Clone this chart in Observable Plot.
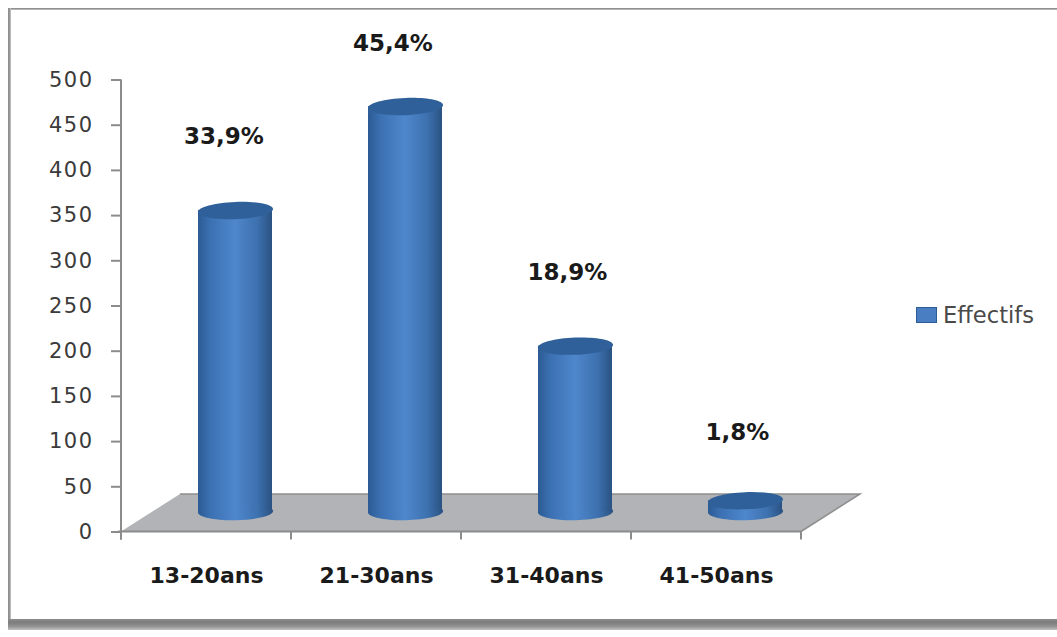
<!DOCTYPE html>
<html lang="fr">
<head>
<meta charset="utf-8">
<title>Effectifs par tranche d'âge</title>
<script src="https://cdn.jsdelivr.net/npm/d3@7"></script>
<script src="https://cdn.jsdelivr.net/npm/@observablehq/plot@0.6"></script>
<style>
  html, body { margin: 0; padding: 0; background: #fff; }
  #page { position: relative; width: 1057px; height: 637px; overflow: hidden; font-family: "DejaVu Sans", sans-serif; }
  #page svg { position: absolute; left: 0; top: 0; }
  .edge { position: absolute; }
  #edge-top { left: 8px; right: 0; top: 8px; height: 2px; background: linear-gradient(#808080, #c4c4c4); }
  #edge-left { left: 8px; top: 8px; width: 3px; height: 619px; background: linear-gradient(90deg, #8a8a8a, #9c9c9c 66%, #d8d8d8); }
  #edge-bottom { left: 8px; right: 0; top: 619px; height: 11px; background: linear-gradient(#8c8c8c, #7d7d7d 30%, #909090 65%, #c0c0c0); }
  #legend { position: absolute; left: 916px; top: 301px; display: flex; align-items: center; gap: 6px; font-size: 22.6px; color: #4a4a4a; line-height: 28px; }
  #legend i { display: block; width: 19px; height: 14px; background: #4a7ec2; border: 1px solid #2d5c94; }
  [aria-label="y-axis tick label"] text { letter-spacing: 1.5px; }
</style>
</head>
<body>
<div id="page">
  <div class="edge" id="edge-top"></div>
  <div class="edge" id="edge-left"></div>
  <div class="edge" id="edge-bottom"></div>
  <div id="legend"><i></i><span>Effectifs</span></div>
</div>
<script>
// Headcount by age group and the share each group represents.
const ageGroups = ["13-20ans", "21-30ans", "31-40ans", "41-50ans"];
const headcounts = [339, 454, 189, 18];
const shares = ["33,9%", "45,4%", "18,9%", "1,8%"];
const yTicks = [0, 50, 100, 150, 200, 250, 300, 350, 400, 450, 500];

const rows = ageGroups.map((group, i) => ({group, count: headcounts[i], share: shares[i]}));

// Pseudo-3D layout: the columns stand on a floor receding up and to the right.
const columnShift = 29;      // horizontal offset of the columns within a band
const columnLift = -15;      // vertical offset of the columns from the wall scale
const columnFoot = 6;        // base of a column, in headcount units
const columnInset = 48;      // narrows the bars inside their band
const floorDepthX = 59;
const floorDepthY = 37.5;
const radiusX = 37.6;
const radiusY = 8.6;

// Share labels float above their columns, each with its own offset.
const labelOffsets = [{dx: 17.5, dy: -89}, {dx: 16.5, dy: -78}, {dx: 21, dy: -89}, {dx: 21, dy: -83}];

// Ellipse symbol for the column caps and bases, with an optional tilt.
const ellipse = (tilt) => ({
  draw(context) {
    const k = 0.5522848;
    const c = Math.cos(tilt), s = Math.sin(tilt);
    const p = (x, y) => [x * c - y * s, x * s + y * c];
    const a = radiusX, b = radiusY;
    context.moveTo(...p(a, 0));
    context.bezierCurveTo(...p(a, k * b), ...p(k * a, b), ...p(0, b));
    context.bezierCurveTo(...p(-k * a, b), ...p(-a, k * b), ...p(-a, 0));
    context.bezierCurveTo(...p(-a, -k * b), ...p(-k * a, -b), ...p(0, -b));
    context.bezierCurveTo(...p(k * a, -b), ...p(a, -k * b), ...p(a, 0));
    context.closePath();
  }
});

// Horizontal shading that gives the column bodies their rounded look.
const cylinderShading = () => {
  const svgNS = "http://www.w3.org/2000/svg";
  const defs = document.createElementNS(svgNS, "defs");
  defs.innerHTML = `
    <linearGradient id="cylinder" x1="0" x2="1" y1="0" y2="0">
      <stop offset="0" stop-color="#2c5b94"/>
      <stop offset="0.18" stop-color="#3c72b4"/>
      <stop offset="0.5" stop-color="#4f87cc"/>
      <stop offset="0.8" stop-color="#3d71af"/>
      <stop offset="1" stop-color="#2a5282"/>
    </linearGradient>`;
  return defs;
};

// Grey floor, derived from the x range and the zero of the y scale.
const floor = (index, {x, y}) => {
  const [x0, x1] = x.range();
  const y0 = y(0);
  const g = d3.create("svg:g");
  g.append("path")
    .attr("d", `M${x0},${y0}L${x0 + floorDepthX},${y0 - floorDepthY}L${x1 + floorDepthX},${y0 - floorDepthY}L${x1},${y0}Z`)
    .attr("fill", "#b1b3b6");
  g.append("path")
    .attr("d", `M${x0 + floorDepthX},${y0 - floorDepthY}L${x1 + floorDepthX},${y0 - floorDepthY}L${x1},${y0}`)
    .attr("fill", "none").attr("stroke", "#8e8e8e").attr("stroke-width", 1.5);
  return g.node();
};

// Axis lines, with the category ticks placed on the band boundaries.
const axisLines = (index, {x, y}) => {
  const y0 = y(0);
  const [x0, x1] = x.range();
  const step = (x1 - x0) / ageGroups.length;
  const g = d3.create("svg:g").attr("stroke", "#8c8c8c").attr("stroke-width", 2);
  g.append("line").attr("x1", x0).attr("x2", x0).attr("y1", y(500)).attr("y2", y0 + 8);
  g.append("line").attr("x1", x0 - 3).attr("x2", x1 + 1).attr("y1", y0).attr("y2", y0);
  for (const i of d3.range(ageGroups.length + 1)) {
    const edge = x0 + i * step;
    g.append("line").attr("x1", edge).attr("x2", edge).attr("y1", y0).attr("y2", y0 + 8);
  }
  return g.node();
};

const chart = Plot.plot({
  width: 1057,
  height: 637,
  marginLeft: 121,
  marginRight: 256,
  marginTop: 79.5,
  marginBottom: 105.5,
  style: {fontFamily: "DejaVu Sans, sans-serif", background: "transparent", overflow: "visible"},
  x: {domain: ageGroups, padding: 0, label: null},
  y: {domain: [0, 500], label: null},
  marks: [
    cylinderShading,
    floor,
    Plot.axisY({
      ticks: yTicks,
      tickSize: 10,
      tickPadding: 18,
      stroke: "#8c8c8c",
      strokeWidth: 2,
      fontSize: 21,
      fill: "#3a3a3a"
    }),
    Plot.axisX({
      tickSize: 0,
      tickPadding: 35,
      fontSize: 22,
      fontWeight: "bold",
      fill: "#1a1a1a"
    }),
    axisLines,
    Plot.dot(rows, {
      x: "group",
      y: () => columnFoot,
      dx: columnShift,
      dy: columnLift,
      symbol: ellipse(-0.015),
      r: 5,
      fill: "url(#cylinder)"
    }),
    Plot.barY(rows, {
      x: "group",
      y1: () => columnFoot,
      y2: "count",
      dx: columnShift,
      dy: columnLift,
      insetLeft: columnInset,
      insetRight: columnInset,
      fill: "url(#cylinder)"
    }),
    Plot.dot(rows, {
      x: "group",
      y: "count",
      dx: columnShift,
      dy: columnLift,
      symbol: ellipse(-0.04),
      r: 5,
      fill: "#2f6099"
    }),
    ...rows.map((row, i) => Plot.text([row], {
      x: "group",
      y: "count",
      text: "share",
      dx: labelOffsets[i].dx,
      dy: labelOffsets[i].dy,
      fontSize: 23,
      fontWeight: "bold",
      fill: "#1a1a1a"
    }))
  ]
});

document.getElementById("page").appendChild(chart);
</script>
</body>
</html>
